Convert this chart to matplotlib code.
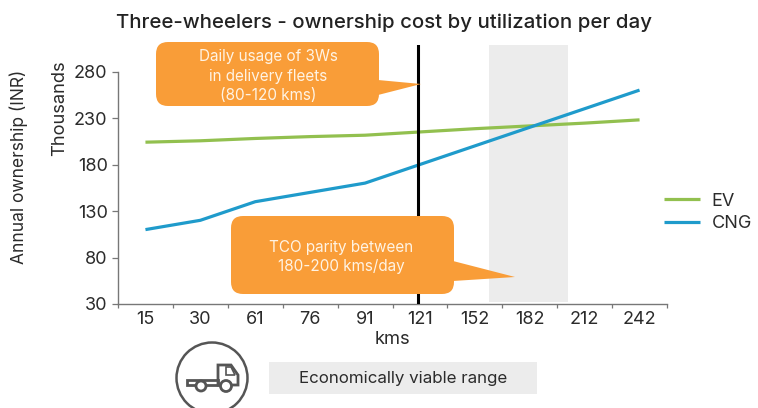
#!/usr/bin/env python3
import matplotlib
matplotlib.use('Agg')
import matplotlib.pyplot as plt
from matplotlib.patches import Circle, FancyBboxPatch, Polygon, Rectangle

categories = ['15', '30', '61', '76', '91', '121', '152', '182', '212', '242']
ev_cost = [204, 205.5, 208, 210, 211.5, 215, 218.5, 221.5, 224.5, 228]
cng_cost = [110, 120, 140, 150, 160, 180, 200, 220, 240, 260]
y_ticks = [30, 80, 130, 180, 230, 280]

GREEN = '#92c04f'
BLUE = '#1f9bcb'
ORANGE = '#f99d38'
GREY = '#ececec'
TEXT = '#2b2b2b'
W, H = 758, 408

plt.rcParams['font.family'] = ['Inter', 'DejaVu Sans']

fig = plt.figure(figsize=(W / 100, H / 100), dpi=100)
ax = fig.add_axes([118 / W, 1 - 304 / H, 549 / W, 259 / H])
positions = list(range(len(categories)))

# Shaded range and the marker line sit behind the curves
ax.axvspan(6.26, 7.70, ymin=0.006, ymax=1, color=GREY, lw=0, zorder=1)
ax.axvline(4.96, color='black', lw=2.2, zorder=4)

ax.plot(positions, ev_cost, color=GREEN, lw=2.3, label='EV', zorder=3, solid_capstyle='butt')
ax.plot(positions, cng_cost, color=BLUE, lw=2.3, label='CNG', zorder=3, solid_capstyle='butt')

ax.set_xlim(-0.5, 9.5)
ax.set_ylim(30, 308.5)
ax.set_yticks(y_ticks)
ax.set_xticks(positions)
ax.set_xticklabels(categories)
ax.set_xticks([p - 0.5 for p in positions] + [9.5], minor=True)
ax.tick_params(axis='x', which='major', length=0, labelsize=13, colors=TEXT, pad=5)
ax.tick_params(axis='x', which='minor', length=3, width=0.9, color='#777777')
ax.tick_params(axis='y', length=4.5, width=0.9, color='#777777', labelsize=13, labelcolor=TEXT, pad=3)
for side in ['top', 'right']:
    ax.spines[side].set_visible(False)
for side in ['left', 'bottom']:
    ax.spines[side].set_color('#777777')
    ax.spines[side].set_linewidth(1.0)
ax.spines['left'].set_bounds(30, 280)

ax.legend(loc='upper left', bbox_to_anchor=(660 / W, 1 - 189 / H), bbox_transform=fig.transFigure,
          frameon=False, fontsize=13, labelcolor=TEXT, handlelength=2.0, handletextpad=0.66,
          labelspacing=0.3, borderpad=0.2, borderaxespad=0)

# Overlay in pixel coordinates for callouts, icon and free text
ov = fig.add_axes([0, 0, 1, 1], zorder=5)
ov.set_xlim(0, W)
ov.set_ylim(H, 0)
ov.axis('off')

ov.text(384, 23, 'Three-wheelers - ownership cost by utilization per day', ha='center', va='center',
        fontsize=14.7, fontweight='medium', color='#222222')
ov.text(60, 108.5, 'Thousands', rotation=90, ha='center', va='center', fontsize=13.2, color=TEXT)
ov.text(19, 167, 'Annual ownership (INR)', rotation=90, ha='center', va='center', fontsize=12.5, color=TEXT)
ov.text(392, 339, 'kms', ha='center', va='center', fontsize=13.2, color=TEXT)


def callout(x0, y0, x1, y1, tail, label, dx, dy):
    ov.add_patch(FancyBboxPatch((x0 + 12, y0 + 12), x1 - x0 - 24, y1 - y0 - 24,
                                boxstyle='round,pad=12,rounding_size=12',
                                fc=ORANGE, ec='none', mutation_aspect=1))
    ov.add_patch(Polygon(tail, fc=ORANGE, ec='none'))
    ov.text((x0 + x1) / 2 + dx, (y0 + y1) / 2 + dy, label, ha='center', va='center', color='#fff3e3',
            fontsize=11, linespacing=1.39)


callout(156, 42, 379, 106, [(378, 80), (421, 84), (378, 95)],
        'Daily usage of 3Ws\nin delivery fleets\n(80-120 kms)', 1, 2)
callout(231, 216, 454, 294, [(453, 261), (515, 277), (453, 281)],
        'TCO parity between\n180-200 kms/day', -1, 2)

# Legend box for the shaded range
ov.add_patch(Rectangle((269, 362), 268, 32, fc=GREY, ec='none'))
ov.text(403, 378, 'Economically viable range', ha='center', va='center', fontsize=12.2, color=TEXT)

# Truck icon
ICON = '#555555'
ov.add_patch(Circle((212, 378), 35.5, fc='none', ec=ICON, lw=1.8))
ov.add_patch(Rectangle((187, 380), 31, 5, fc='none', ec=ICON, lw=2))
ov.add_patch(Polygon([(218, 385), (218, 365), (231, 365), (238, 375), (238, 385)], fc='none', ec=ICON, lw=2))
ov.add_patch(Polygon([(226, 367), (231, 367), (235, 375), (226, 375)], fc='none', ec=ICON, lw=1.2))
ov.add_patch(Circle((201, 386), 5, fc='white', ec=ICON, lw=2, zorder=3))
ov.add_patch(Circle((226, 386), 5.5, fc='white', ec=ICON, lw=2, zorder=3))

fig.savefig('out.png', dpi=100)
